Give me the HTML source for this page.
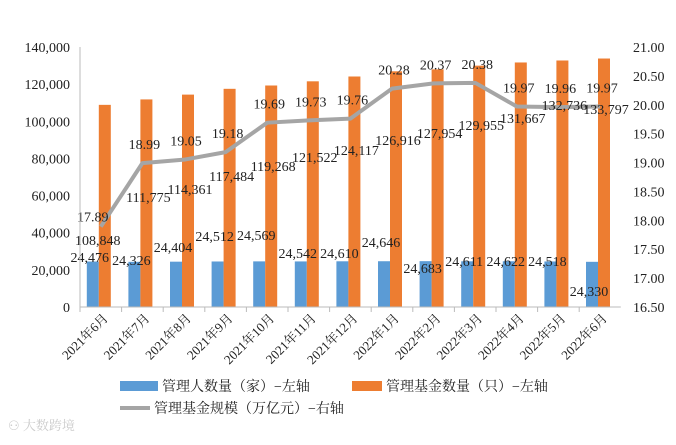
<!DOCTYPE html>
<html><head><meta charset="utf-8"><style>
body{margin:0;background:#fff;}
svg text{font-family:"Liberation Serif","Noto Serif CJK SC",serif;fill:#222;}
</style></head><body>
<svg id="chart" width="676" height="440" xmlns="http://www.w3.org/2000/svg">
<g id="grid"></g><g id="bars"></g><g id="line"></g><g id="labels"></g><g id="axes"></g>
<g font-family="Liberation Sans, Noto Sans CJK SC, sans-serif">
<rect x="120" y="381" width="38" height="10" fill="#5b9bd5"/>
<text x="162" y="391" font-size="14">管理人数量（家）−左轴</text>
<rect x="352" y="381" width="30" height="10" fill="#ed7d31"/>
<text x="386" y="391" font-size="14">管理基金数量（只）−左轴</text>
<rect x="120" y="406" width="30" height="4" fill="#a5a5a5"/>
<text x="154" y="413" font-size="14">管理基金规模（万亿元）−右轴</text>
</g>
<text x="8" y="430" font-size="13" style="fill:#ccc">⚇ 大数跨境</text>
</svg>
<script>
const categories=["2021年6月","2021年7月","2021年8月","2021年9月","2021年10月","2021年11月","2021年12月","2022年1月","2022年2月","2022年3月","2022年4月","2022年5月","2022年6月"];
const managers=[24476,24326,24404,24512,24569,24542,24610,24646,24683,24611,24622,24518,24330];
const funds=[108848,111775,114361,117484,119268,121522,124117,126916,127954,129955,131667,132736,133797];
const aum=[17.89,18.99,19.05,19.18,19.69,19.73,19.76,20.28,20.37,20.38,19.97,19.96,19.97];
const leftTicks=[0,20000,40000,60000,80000,100000,120000,140000];
const rightTicks=[16.5,17,17.5,18,18.5,19,19.5,20,20.5,21];
// layout offsets for labels (pixels, not data)
const fundLabelY=[245,202,194,181,171,162,155,145,138,130,123,110,114];
const mgrLabelY=[262,265,252,241,240,258,258,247,273,266,266,266,296];
const NS="http://www.w3.org/2000/svg";
const X0=80,CW=41.6,Y0=307,YT=47;
const yL=v=>Y0-(v/140000)*(Y0-YT);
const yR=v=>Y0-((v-16.5)/4.5)*(Y0-YT);
const cx=i=>X0+CW*i+CW/2;
function mk(tag,attrs,parent,txt){const e=document.createElementNS(NS,tag);for(const k in attrs)e.setAttribute(k,attrs[k]);if(txt!==undefined)e.textContent=txt;document.getElementById(parent).appendChild(e);return e;}
const fmt=n=>n.toLocaleString('en-US');
managers.forEach((v,i)=>{
 const r=mk('rect',{x:cx(i)-14,y:yL(v),width:12,height:Y0-yL(v),fill:'#5b9bd5'},'bars');
 
 
 const t=mk('text',{x:cx(i)-11,y:mgrLabelY[i],'font-size':14,'text-anchor':'middle'},'labels',fmt(v));
 
 
});
funds.forEach((v,i)=>{
 const r=mk('rect',{x:cx(i)-2,y:yL(v),width:12,height:Y0-yL(v),fill:'#ed7d31'},'bars');
 
 
 const t=mk('text',{x:cx(i)+(i==0?-3:6),y:fundLabelY[i],'font-size':14,'text-anchor':'middle'},'labels',fmt(v));
 
 
});
const pts=aum.map((v,i)=>cx(i)+','+yR(v)).join(' ');
const pl=mk('polyline',{points:pts,fill:'none',stroke:'#a5a5a5','stroke-width':4,'stroke-linejoin':'round'},'line');


aum.forEach((v,i)=>{
 const t=mk('text',{x:cx(i)+(i==0?-8:2),y:i==0?yR(v)-5:yR(v)-14,'font-size':14,'text-anchor':'middle'},'labels',v.toFixed(2));
 
 
});
leftTicks.forEach(v=>{
 const t=mk('text',{x:70,y:yL(v)+5,'font-size':14,'text-anchor':'end'},'axes',fmt(v));
 
 
});
rightTicks.forEach(v=>{
 const t=mk('text',{x:633,y:yR(v)+5,'font-size':14},'axes',v.toFixed(2));
 
 
});
const ax=mk('line',{x1:X0,y1:YT,x2:X0,y2:Y0,stroke:'#bbb'},'axes');


const xa=mk('line',{x1:X0,y1:Y0,x2:X0+CW*13,y2:Y0,stroke:'#bbb'},'axes');


categories.forEach((c,i)=>{
 const tk=mk('line',{x1:X0+CW*i,y1:Y0,x2:X0+CW*i,y2:Y0+5,stroke:'#bbb'},'axes');
 
 
 const t=mk('text',{x:cx(i)+8,y:Y0+12,'font-size':13,'text-anchor':'end',transform:`rotate(-45 ${cx(i)+8} ${Y0+12})`},'axes',c);
 
 
});
</script>
</body></html>
